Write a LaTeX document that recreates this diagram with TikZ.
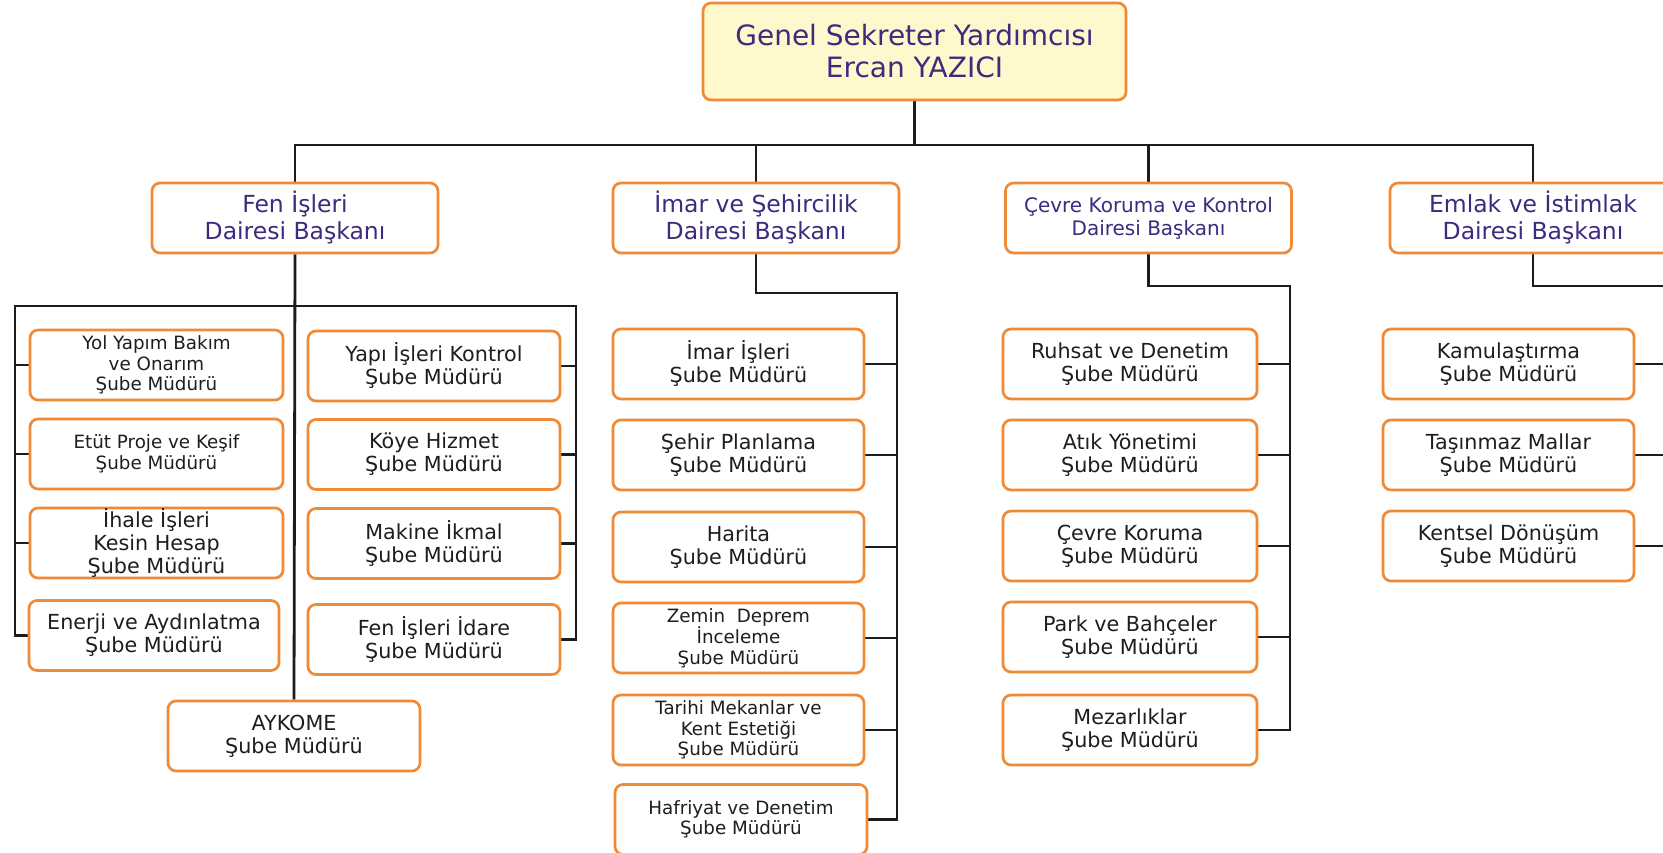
\documentclass[tikz,border=0pt]{standalone}
\usepackage{fontspec}
\setmainfont{DejaVu Sans}
\definecolor{boxorange}{HTML}{F08A36}
\definecolor{txtpurple}{HTML}{3E2A7E}
\definecolor{topfill}{HTML}{FFF8CC}
\definecolor{linecol}{HTML}{1C1C1C}
\definecolor{txtdark}{HTML}{1E1E1E}
\pgfdeclarelayer{back}
\pgfdeclarelayer{bg}
\pgfsetlayers{back,bg,main}
\begin{document}
\begin{tikzpicture}[x=1pt,y=-1pt,
  box/.style={draw=boxorange, line width=2.7pt, rounded corners=8pt, fill=white,
    align=center, inner sep=0pt},
  topbox/.style={box, fill=topfill, text=txtpurple, minimum width=423pt, minimum height=97pt,
    font=\fontsize{28}{32}\selectfont},
  headbox/.style={box, text=txtpurple, minimum width=286pt, minimum height=70pt,
    font=\fontsize{23.5}{27}\selectfont},
  subbox/.style={box, text=txtdark, minimum width=252pt, minimum height=70pt,
    font=\fontsize{20.7}{23}\selectfont},
  smallsub/.style={subbox, font=\fontsize{18.3}{20.5}\selectfont},
  conn/.style={draw=linecol, line width=2.8pt, line join=miter}
]
\useasboundingbox (0,0) rectangle (1663,853);
\clip (0,0) rectangle (1663,853);
\begin{pgfonlayer}{back}
  \fill[white] (0,0) rectangle (1663,853);
\end{pgfonlayer}

% bus coordinates
\coordinate (busL) at (295,145);
\coordinate (busR) at (1533,145);
\coordinate (fL) at (15,306);
\coordinate (fR) at (576,306);
\coordinate (iR) at (897,293);
\coordinate (cR) at (1290,286);
\coordinate (eR) at (1672,286);

% top
\node[topbox] (top) at (914.5,51.5) {Genel Sekreter Yardımcısı\\Ercan YAZICI};

% level 2
\node[headbox] (fen) at (295,218) {Fen İşleri\\Dairesi Başkanı};
\node[headbox] (imar) at (756,218) {İmar ve Şehircilik\\Dairesi Başkanı};
\node[headbox, font=\fontsize{20}{23}\selectfont] (cevre) at (1148.5,218) {Çevre Koruma ve Kontrol\\Dairesi Başkanı};
\node[headbox] (emlak) at (1533,218) {Emlak ve İstimlak\\Dairesi Başkanı};

% Fen subtree - left column
\node[smallsub, minimum width=253pt] (yol) at (156.5,365) {Yol Yapım Bakım\\ve Onarım\\Şube Müdürü};
\node[smallsub, minimum width=253pt] (etut) at (156.5,454) {Etüt Proje ve Keşif\\Şube Müdürü};
\node[subbox, minimum width=253pt] (ihale) at (156.5,543) {İhale İşleri\\Kesin Hesap\\Şube Müdürü};
\node[subbox, minimum width=250pt] (enerji) at (154,635.5) {Enerji ve Aydınlatma\\Şube Müdürü};
% Fen subtree - right column
\node[subbox] (yapi) at (434,366) {Yapı İşleri Kontrol\\Şube Müdürü};
\node[subbox] (koye) at (434,454.5) {Köye Hizmet\\Şube Müdürü};
\node[subbox] (makine) at (434,543.5) {Makine İkmal\\Şube Müdürü};
\node[subbox] (idare) at (434,639.5) {Fen İşleri İdare\\Şube Müdürü};
\node[subbox] (aykome) at (294,736) {AYKOME\\Şube Müdürü};

% İmar subtree
\node[subbox, minimum width=251pt] (imaris) at (738.5,364) {İmar İşleri\\Şube Müdürü};
\node[subbox, minimum width=251pt] (sehir) at (738.5,455) {Şehir Planlama\\Şube Müdürü};
\node[subbox, minimum width=251pt] (harita) at (738.5,547) {Harita\\Şube Müdürü};
\node[smallsub, minimum width=251pt] (zemin) at (738.5,638) {Zemin~~Deprem\\İnceleme\\Şube Müdürü};
\node[smallsub, minimum width=251pt] (tarihi) at (738.5,730) {Tarihi Mekanlar ve\\Kent Estetiği\\Şube Müdürü};
\node[smallsub, minimum width=252pt] (hafriyat) at (741,819.5) {Hafriyat ve Denetim\\Şube Müdürü};

% Çevre subtree
\node[subbox, minimum width=254pt] (ruhsat) at (1130,364) {Ruhsat ve Denetim\\Şube Müdürü};
\node[subbox, minimum width=254pt] (atik) at (1130,455) {Atık Yönetimi\\Şube Müdürü};
\node[subbox, minimum width=254pt] (cevrek) at (1130,546) {Çevre Koruma\\Şube Müdürü};
\node[subbox, minimum width=254pt] (park) at (1130,637) {Park ve Bahçeler\\Şube Müdürü};
\node[subbox, minimum width=254pt] (mezar) at (1130,730) {Mezarlıklar\\Şube Müdürü};

% Emlak subtree
\node[subbox, minimum width=251pt] (kamu) at (1508.5,364) {Kamulaştırma\\Şube Müdürü};
\node[subbox, minimum width=251pt] (tasin) at (1508.5,455) {Taşınmaz Mallar\\Şube Müdürü};
\node[subbox, minimum width=251pt] (kent) at (1508.5,546) {Kentsel Dönüşüm\\Şube Müdürü};

\begin{pgfonlayer}{bg}
  % main bus
  \draw[conn] (top.south) -- (top.south |- busL);
  \draw[conn] (fen.north) -- (busL) -- (busR) -- (emlak.north);
  \draw[conn] (imar.north) -- (imar.north |- busL);
  \draw[conn] (cevre.north) -- (cevre.north |- busL);

  % Fen
  \draw[conn] (fen.south) -- (aykome.north);
  \draw[conn] (enerji.west) -| (fL) -- (fR) |- (idare.east);
  \foreach \n in {yol,etut,ihale} \draw[conn] (\n.west) -- (\n.west -| fL);
  \foreach \n in {yapi,koye,makine} \draw[conn] (\n.east) -- (\n.east -| fR);

  % İmar
  \draw[conn] (imar.south) |- (iR) |- (hafriyat.east);
  \foreach \n in {imaris,sehir,harita,zemin,tarihi} \draw[conn] (\n.east) -- (\n.east -| iR);

  % Çevre
  \draw[conn] (cevre.south) |- (cR) |- (mezar.east);
  \foreach \n in {ruhsat,atik,cevrek,park} \draw[conn] (\n.east) -- (\n.east -| cR);

  % Emlak
  \draw[conn] (emlak.south) |- (eR) |- (kent.east);
  \foreach \n in {kamu,tasin} \draw[conn] (\n.east) -- (\n.east -| eR);
\end{pgfonlayer}
\end{tikzpicture}
\end{document}
